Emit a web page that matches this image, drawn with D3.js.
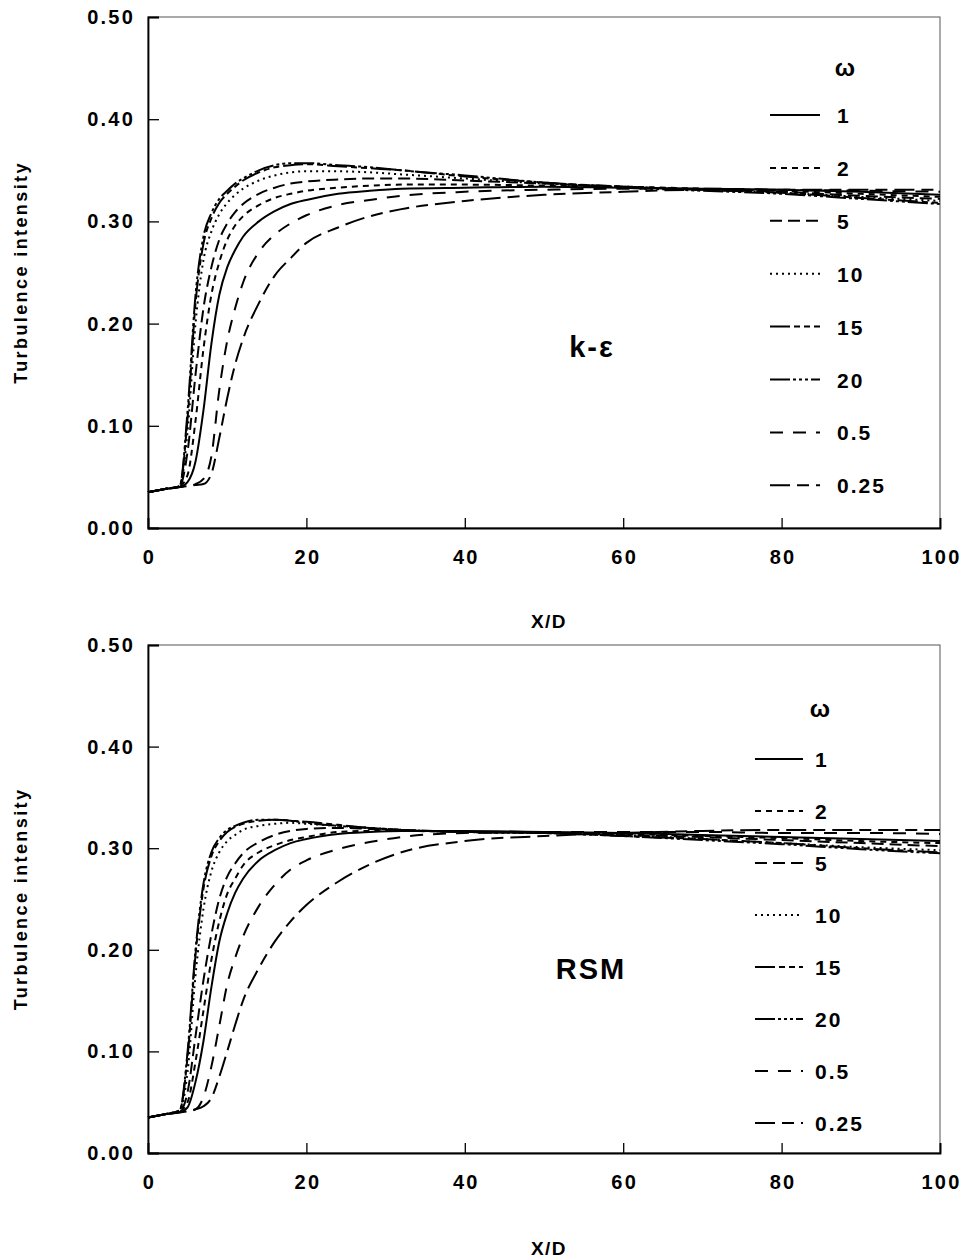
<!DOCTYPE html>
<html>
<head>
<meta charset="utf-8">
<script src="https://cdn.jsdelivr.net/npm/d3@7"></script>
<style>
	body { margin: 0; background: #fff; }
	text { font-family: "Liberation Sans", Arial, sans-serif; font-weight: bold; fill: #000; }
</style>
</head>
<body>
<svg id="fig" width="964" height="1258"></svg>
<script>
// X/D stations shared by every curve
const xd = [0, 2, 4, 5, 6, 7, 8, 9, 10, 11, 12, 14, 16, 18, 20, 24, 28, 32, 40, 50, 60, 70, 80, 90, 100];

const omegas = ["1", "2", "5", "10", "15", "20", "0.5", "0.25"];
const yTicks = [0, 0.1, 0.2, 0.3, 0.4, 0.5];
const xTicks = [0, 20, 40, 60, 80, 100];

// k-epsilon model, turbulence intensity
const ke_w1 = [0.035, 0.038, 0.040, 0.045, 0.065, 0.115, 0.180, 0.228, 0.255, 0.272, 0.285, 0.300, 0.310, 0.317, 0.321, 0.327, 0.330, 0.332, 0.333, 0.334, 0.333, 0.332, 0.331, 0.329, 0.326];
const ke_w2 = [0.035, 0.038, 0.041, 0.052, 0.105, 0.175, 0.228, 0.260, 0.282, 0.296, 0.305, 0.316, 0.323, 0.327, 0.330, 0.333, 0.335, 0.336, 0.336, 0.335, 0.334, 0.332, 0.330, 0.327, 0.324];
const ke_w5 = [0.035, 0.038, 0.041, 0.075, 0.150, 0.215, 0.255, 0.282, 0.298, 0.309, 0.317, 0.327, 0.333, 0.337, 0.339, 0.341, 0.342, 0.342, 0.340, 0.337, 0.334, 0.331, 0.329, 0.325, 0.322];
const ke_w10 = [0.035, 0.038, 0.041, 0.095, 0.200, 0.262, 0.290, 0.307, 0.318, 0.326, 0.332, 0.340, 0.345, 0.348, 0.349, 0.349, 0.348, 0.346, 0.342, 0.337, 0.334, 0.331, 0.328, 0.324, 0.320];
const ke_w15 = [0.035, 0.038, 0.041, 0.108, 0.220, 0.278, 0.303, 0.318, 0.327, 0.334, 0.340, 0.348, 0.353, 0.355, 0.356, 0.354, 0.352, 0.350, 0.344, 0.338, 0.334, 0.331, 0.328, 0.323, 0.318];
const ke_w20 = [0.035, 0.038, 0.041, 0.115, 0.228, 0.285, 0.308, 0.322, 0.330, 0.337, 0.342, 0.350, 0.355, 0.357, 0.357, 0.355, 0.353, 0.350, 0.345, 0.338, 0.333, 0.330, 0.327, 0.322, 0.317];
const ke_w05 = [0.035, 0.038, 0.040, 0.041, 0.043, 0.048, 0.070, 0.135, 0.183, 0.215, 0.240, 0.270, 0.287, 0.298, 0.306, 0.316, 0.321, 0.325, 0.329, 0.331, 0.332, 0.332, 0.331, 0.330, 0.329];
const ke_w025 = [0.035, 0.038, 0.040, 0.041, 0.042, 0.043, 0.053, 0.088, 0.127, 0.160, 0.185, 0.220, 0.247, 0.264, 0.279, 0.294, 0.305, 0.312, 0.320, 0.326, 0.329, 0.331, 0.331, 0.331, 0.331];

// Reynolds stress model
const rsm_w1 = [0.035, 0.038, 0.040, 0.045, 0.070, 0.110, 0.163, 0.208, 0.236, 0.256, 0.270, 0.288, 0.298, 0.305, 0.309, 0.314, 0.316, 0.317, 0.317, 0.316, 0.315, 0.313, 0.311, 0.309, 0.307];
const rsm_w2 = [0.035, 0.038, 0.041, 0.050, 0.090, 0.140, 0.190, 0.228, 0.255, 0.270, 0.283, 0.296, 0.303, 0.308, 0.311, 0.316, 0.317, 0.317, 0.316, 0.315, 0.314, 0.312, 0.310, 0.307, 0.305];
const rsm_w5 = [0.035, 0.038, 0.041, 0.060, 0.115, 0.170, 0.215, 0.250, 0.272, 0.285, 0.295, 0.306, 0.313, 0.317, 0.319, 0.320, 0.319, 0.318, 0.316, 0.315, 0.313, 0.311, 0.308, 0.305, 0.302];
const rsm_w10 = [0.035, 0.038, 0.042, 0.080, 0.175, 0.240, 0.277, 0.296, 0.307, 0.313, 0.318, 0.322, 0.324, 0.325, 0.324, 0.322, 0.320, 0.318, 0.316, 0.315, 0.313, 0.309, 0.305, 0.301, 0.298];
const rsm_w15 = [0.035, 0.038, 0.042, 0.095, 0.195, 0.260, 0.292, 0.307, 0.316, 0.321, 0.324, 0.327, 0.328, 0.327, 0.326, 0.323, 0.320, 0.318, 0.316, 0.315, 0.312, 0.309, 0.305, 0.300, 0.296];
const rsm_w20 = [0.035, 0.038, 0.042, 0.100, 0.200, 0.265, 0.296, 0.310, 0.318, 0.322, 0.325, 0.328, 0.328, 0.327, 0.325, 0.322, 0.320, 0.318, 0.316, 0.315, 0.312, 0.308, 0.304, 0.299, 0.295];
const rsm_w05 = [0.035, 0.038, 0.040, 0.041, 0.043, 0.055, 0.085, 0.125, 0.166, 0.192, 0.213, 0.243, 0.264, 0.279, 0.288, 0.299, 0.306, 0.311, 0.315, 0.316, 0.316, 0.316, 0.315, 0.315, 0.314];
const rsm_w025 = [0.035, 0.038, 0.040, 0.041, 0.043, 0.046, 0.054, 0.075, 0.100, 0.126, 0.150, 0.182, 0.208, 0.228, 0.244, 0.267, 0.284, 0.296, 0.307, 0.312, 0.315, 0.317, 0.318, 0.318, 0.318];

const keSeries = [ke_w1, ke_w2, ke_w5, ke_w10, ke_w15, ke_w20, ke_w05, ke_w025];
const rsmSeries = [rsm_w1, rsm_w2, rsm_w5, rsm_w10, rsm_w15, rsm_w20, rsm_w05, rsm_w025];

// line style per omega
const dashes = {
	"1": null,
	"2": "6,5",
	"5": "12,6",
	"10": "2,4",
	"15": "20,4,6,4,6,4",
	"20": "20,3,3,3,3,3,3,3",
	"0.5": "13,10",
	"0.25": "20,7,12,7",
};

const svg = d3.select("#fig");
const left = 148, right = 940;

function drawPanel(p) {
	const x = d3.scaleLinear().domain([0, 100]).range([left, right]);
	const y = d3.scaleLinear().domain([0, 0.5]).range([p.bottom, p.top]);
	const g = svg.append("g");

	// frame
	g.append("rect")
		.attr("x", left).attr("y", p.top)
		.attr("width", right - left).attr("height", p.bottom - p.top)
		.attr("fill", "none").attr("stroke", "#555").attr("stroke-width", 1);

	const yAxis = g.append("g")
		.attr("transform", `translate(${left},0)`)
		.call(d3.axisLeft(y).tickValues(yTicks).tickFormat(d3.format(".2f")).tickSize(-11).tickPadding(13));
	const xAxis = g.append("g")
		.attr("transform", `translate(0,${p.bottom})`)
		.call(d3.axisBottom(x).tickValues(xTicks).tickFormat(d3.format("d")).tickSize(-10).tickPadding(22));
	[yAxis, xAxis].forEach((a) => {
		a.select(".domain").attr("stroke", "#000").attr("stroke-width", 1.8);
		a.selectAll(".tick line").attr("stroke", "#000").attr("stroke-width", 1.3);
		a.selectAll(".tick text")
			.style("font-size", "20px")
			.style("letter-spacing", "2.2px")
			.attr("fill", "#000");
	});
	xAxis.selectAll(".tick text").attr("dx", "1px");

	// curves
	const line = d3.line()
		.x((d) => x(d[0]))
		.y((d) => y(d[1]))
		.curve(d3.curveMonotoneX);
	p.series.forEach((vals, i) => {
		g.append("path")
			.datum(xd.map((v, j) => [v, vals[j]]))
			.attr("d", line)
			.attr("fill", "none")
			.attr("stroke", "#000")
			.attr("stroke-width", 2)
			.attr("stroke-dasharray", dashes[omegas[i]]);
	});

	// axis titles
	g.append("text")
		.attr("transform", `translate(27,${(p.top + p.bottom) / 2}) rotate(-90)`)
		.attr("text-anchor", "middle")
		.style("font-size", "18px")
		.style("letter-spacing", "2.4px")
		.text("Turbulence intensity");
	g.append("text")
		.attr("x", (left + right) / 2 + 5)
		.attr("y", p.xTitleY)
		.attr("text-anchor", "middle")
		.style("font-size", "19px")
		.style("letter-spacing", "1.5px")
		.text("X/D");

	// model label
	g.append("text")
		.attr("x", p.labelX).attr("y", p.labelY)
		.attr("text-anchor", "middle")
		.style("font-size", "29px")
		.style("letter-spacing", "2px")
		.text(p.label);

	// legend
	const lg = p.legend;
	g.append("text")
		.attr("x", lg.omegaX).attr("y", lg.omegaY)
		.attr("text-anchor", "middle")
		.style("font-size", "24px")
		.text("ω");
	omegas.forEach((w, i) => {
		const ly = lg.y0 + i * lg.dy;
		g.append("line")
			.attr("x1", lg.x1).attr("x2", lg.x2)
			.attr("y1", ly).attr("y2", ly)
			.attr("stroke", "#000").attr("stroke-width", 2)
			.attr("stroke-dasharray", dashes[w]);
		g.append("text")
			.attr("x", lg.tx).attr("y", ly + 8)
			.style("font-size", "21px")
			.style("letter-spacing", "2px")
			.text(w);
	});
}

drawPanel({
	top: 17, bottom: 528, series: keSeries, xTitleY: 628,
	label: "k-ε", labelX: 592, labelY: 357,
	legend: { x1: 770, x2: 820, tx: 837, y0: 115, dy: 52.9, omegaX: 845, omegaY: 76 },
});
drawPanel({
	top: 645, bottom: 1153, series: rsmSeries, xTitleY: 1255,
	label: "RSM", labelX: 591, labelY: 979,
	legend: { x1: 755, x2: 803, tx: 815, y0: 759, dy: 52, omegaX: 820, omegaY: 717 },
});
</script>
</body>
</html>
